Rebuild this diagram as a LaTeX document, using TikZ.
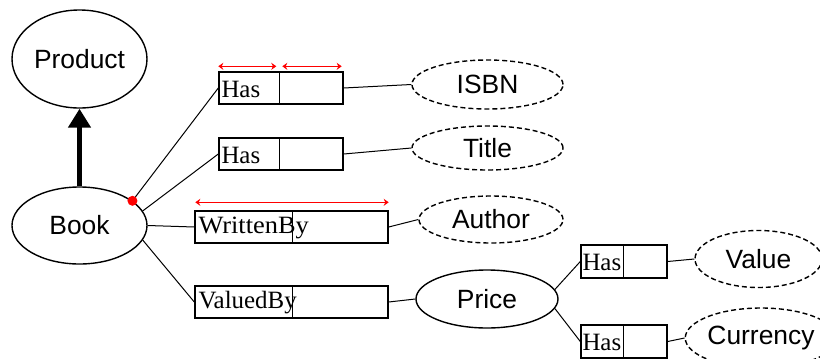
\documentclass[tikz,border=0pt]{standalone}
\usepackage{fontspec}
\setmainfont{Liberation Serif}
\newfontfamily\sansf{Liberation Sans}
\usetikzlibrary{shapes.geometric,arrows.meta,calc}
\begin{document}
\begin{tikzpicture}[x=1bp,y=-1bp,
 ent/.style={ellipse,draw,line width=1.4bp,inner sep=0,font=\sansf\fontsize{26.5}{28}\selectfont},
 val/.style={ent,dash pattern=on 5bp off 3bp},
 rbox/.style={draw,line width=1.4bp,inner sep=0,minimum height=32bp},
 rlab/.style={anchor=west,inner sep=0,font=\fontsize{25}{26}\selectfont},
 conn/.style={line width=1bp},
 uniq/.style={red,line width=1.5bp,{Stealth[length=5bp,width=7bp]}-{Stealth[length=5bp,width=7bp]}},
 divider/.style={line width=1.4bp}]
\useasboundingbox (0,0) rectangle (820,358);
% entity types
\node[ent,minimum width=135bp,minimum height=98bp] (Product) at (79.5,59) {Product};
\node[ent,minimum width=135bp,minimum height=77bp] (Book) at (79.5,225.5) {Book};
\node[ent,minimum width=142bp,minimum height=58bp] (Price) at (487,299) {Price};
% value types
\node[val,minimum width=151bp,minimum height=49bp] (ISBN) at (487.5,84.5) {ISBN};
\node[val,minimum width=151bp,minimum height=44bp] (Title) at (487.5,148) {Title};
\node[val,minimum width=144bp,minimum height=47bp] (Author) at (491,219.5) {Author};
\node[val,minimum width=127bp,minimum height=57bp] (Value) at (758.5,259) {Value};
\node[val,minimum width=128bp,minimum height=60bp] (Currency) at (761,338) {Currency};
% fact type boxes
\node[rbox,minimum width=124bp] (b1) at (281,88) {};
\node[rbox,minimum width=124bp] (b2) at (281,154) {};
\node[rbox,minimum width=193bp] (b3) at (291.5,227) {};
\node[rbox,minimum width=193bp] (b4) at (291.5,302) {};
\node[rbox,minimum width=86bp,minimum height=33bp] (b5) at (624,261.5) {};
\node[rbox,minimum width=86bp,minimum height=33bp] (b6) at (624,341.5) {};
% dividers
\foreach \b/\d in {b1/61,b2/61,b3/98,b4/98,b5/43,b6/43}
  \draw[divider] ($(\b.north west)+(\d,0)$) -- ($(\b.south west)+(\d,0)$);
% labels
\node[rlab] (t1) at ($(b1.west)+(3,1)$) {Has};
\node[rlab] (t2) at ($(b2.west)+(3,1)$) {Has};
\node[rlab,font=\fontsize{25}{26}\selectfont\addfontfeature{FakeStretch=1.06}] (t3) at ($(b3.west)+(4,1)$) {WrittenBy};
\node[rlab] (t4) at ($(b4.west)+(4,1)$) {ValuedBy};
\node[rlab] (t5) at ($(b5.west)+(2,1)$) {Has};
\node[rlab] (t6) at ($(b6.west)+(2,1)$) {Has};
% subtype arrow
\draw[line width=5bp,-{Triangle[length=19bp,width=22bp]}] (Book.north) -- (Product.south);
% connectors
\draw[conn] (Book.25) -- (b1.west);
\draw[conn] (Book.13) -- (b2.west);
\draw[conn] (Book.east) -- (b3.west);
\draw[conn] (Book.-13) -- (b4.west);
\draw[conn] (b1.east) -- (ISBN.west);
\draw[conn] (b2.east) -- (Title.west);
\draw[conn] (b3.east) -- (Author.west);
\draw[conn] (b4.east) -- (Price.west);
\draw[conn] (Price.8) -- (b5.west);
\draw[conn] (Price.-8) -- (b6.west);
\draw[conn] (b5.east) -- (Value.west);
\draw[conn] (b6.east) -- (Currency.west);
% mandatory dot
\fill[red] (Book.25) circle (5bp);
% uniqueness constraints
\coordinate (u1a) at ($(b1.north west)+(0,-5)$);
\coordinate (u1b) at ($(b1.north west)+(58,-5)$);
\coordinate (u2a) at ($(b1.north west)+(64,-5)$);
\coordinate (u2b) at ($(b1.north east)+(-2,-5)$);
\coordinate (u3a) at ($(b3.north west)+(1,-8)$);
\coordinate (u3b) at ($(b3.north east)+(0,-8)$);
\draw[uniq] (u1a) -- (u1b);
\draw[uniq] (u2a) -- (u2b);
\draw[uniq] (u3a) -- (u3b);
\end{tikzpicture}
\end{document}
